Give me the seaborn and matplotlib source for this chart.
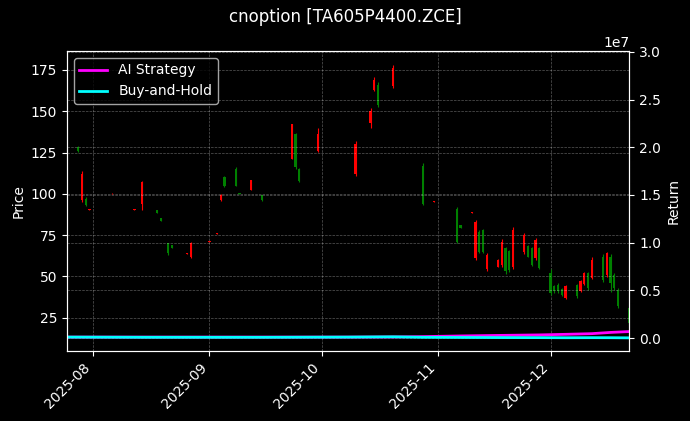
import pandas as pd
import numpy as np
import seaborn as sns
import matplotlib.pyplot as plt
import matplotlib.dates as mdates

# candle data
c_dates = ['2025-07-28', '2025-07-29', '2025-07-30', '2025-07-31', '2025-08-06', '2025-08-11',
           '2025-08-12', '2025-08-14', '2025-08-18', '2025-08-19', '2025-08-21', '2025-08-22',
           '2025-08-26', '2025-08-27', '2025-09-01', '2025-09-03', '2025-09-04', '2025-09-05',
           '2025-09-08', '2025-09-09', '2025-09-12', '2025-09-15', '2025-09-16', '2025-09-23',
           '2025-09-24', '2025-09-25', '2025-09-29', '2025-09-30', '2025-10-10', '2025-10-14',
           '2025-10-15', '2025-10-16', '2025-10-20', '2025-10-22', '2025-10-28', '2025-10-29',
           '2025-10-31', '2025-11-03', '2025-11-05', '2025-11-06', '2025-11-07', '2025-11-10',
           '2025-11-11', '2025-11-12', '2025-11-13', '2025-11-14', '2025-11-17', '2025-11-18',
           '2025-11-19', '2025-11-20', '2025-11-21', '2025-11-24', '2025-11-25', '2025-11-26',
           '2025-11-27', '2025-11-28', '2025-12-01', '2025-12-02', '2025-12-03', '2025-12-04',
           '2025-12-05', '2025-12-08', '2025-12-09', '2025-12-10', '2025-12-11', '2025-12-12',
           '2025-12-15', '2025-12-16', '2025-12-17', '2025-12-18', '2025-12-19', '2025-12-22']
c_open = [128.5, 96, 97, 90.5, 99.8, 96, 90.4, 94, 90.5, 85.5, 70, 69,
          63.6, 62, 70.8, 75.7, 96, 110, 115, 100.7, 102.2, 99, 95.5, 121,
          136, 115, 113.6, 126, 112, 143, 163, 166, 165, 153.7, 117, 97.8,
          95.1, 92.5, 84.5, 91, 81, 88.5, 61, 77, 78, 54.5, 56, 57,
          67, 65.5, 56, 65, 68.5, 67.5, 61, 67, 52, 44.5, 45, 42.5,
          37, 45, 41, 45.5, 52, 49, 62, 51, 62, 51, 42, 31]
c_high = [129, 114, 98, 91, 100.3, 96.3, 90.8, 108, 90.5, 85.6, 70.5, 69,
          64, 70.8, 71.2, 76, 99.7, 110.8, 116.4, 100.7, 108.6, 99.3, 95.8, 142.5,
          137, 115.5, 113.9, 140, 132, 152, 170.5, 168, 178, 154, 118.5, 98.1,
          95.4, 92.8, 84.8, 92.2, 81.1, 88.8, 84, 78.1, 78.5, 64, 60.4, 72.5,
          68, 66, 80, 76.5, 69, 68, 73, 68, 54.3, 44.8, 45.8, 42.8,
          44.8, 45.4, 47.8, 52.8, 52.8, 61.6, 63.6, 65, 63.6, 52.1, 42.8, 31.7]
c_low = [125.5, 95, 92.5, 90.5, 99.8, 96, 90.4, 90, 88.5, 83.6, 63, 67.4,
         63.6, 61, 70.8, 75.7, 95.7, 104.1, 104.8, 99.7, 102.1, 95.7, 95.5, 120.9,
         114.9, 107.4, 113.6, 125.5, 111, 140, 162, 152.8, 164.3, 153.7, 93.2, 97.8,
         95.1, 92.5, 84.5, 70.4, 79.1, 88.5, 60, 64.4, 64, 53.5, 55.9, 55.5,
         51.5, 52.8, 54.3, 63.6, 61.6, 56.3, 60, 54.3, 38.7, 40.1, 39.8, 38,
         36.1, 36.7, 40.7, 44.8, 41.8, 48.3, 46.8, 49.8, 40.7, 41.6, 30.7, 20.6]
c_close = [126, 112, 93, 91, 100.2, 96.3, 90.8, 107, 88.6, 83.8, 64, 67.5,
           64, 70, 71.2, 76, 99.5, 104.5, 105, 99.8, 108.5, 96, 95.8, 142,
           116, 108, 113.9, 136, 130, 150, 169, 154, 176, 154, 94, 98.1,
           95.4, 92.8, 84.8, 71, 79.3, 88.8, 83, 65, 65, 63, 60, 71,
           53, 54, 78, 75, 62, 57, 72, 55, 40, 41, 41, 39,
           44, 38, 47, 52, 43, 60, 48, 64, 46, 43, 32, 22]

# equity curves
line_dates = ['2025-07-25', '2025-08-15', '2025-09-15', '2025-10-08', '2025-10-20', '2025-10-28',
              '2025-11-07', '2025-11-18', '2025-11-28', '2025-12-05', '2025-12-12', '2025-12-17',
              '2025-12-22']
ai_strategy = [1.0e5, 1.0e5, 1.0e5, 1.0e5, 1.1e5, 1.5e5,
               2.2e5, 2.8e5, 3.3e5, 3.9e5, 4.6e5, 5.9e5, 6.8e5]
buy_and_hold = [1.0e5, 0.8e5, 0.77e5, 1.0e5, 1.3e5, 0.75e5,
                0.62e5, 0.5e5, 0.45e5, 0.33e5, 0.4e5, 0.35e5, 0.2e5]

plt.style.use('dark_background')
fig, ax = plt.subplots(figsize=(6.9, 4.21), dpi=100)
fig.subplots_adjust(left=0.097, right=0.912, top=0.879, bottom=0.166)

cd = pd.DataFrame({'date': pd.to_datetime(c_dates), 'open': c_open, 'high': c_high,
                   'low': c_low, 'close': c_close})
cols = np.where(cd['close'] >= cd['open'], 'red', 'green')
ax.vlines(cd['date'], cd['low'], cd['high'], color=cols, linewidth=0.8)
body = (cd['close'] - cd['open']).abs().clip(lower=0.3)
ax.bar(cd['date'], body, bottom=cd[['open', 'close']].min(axis=1), width=0.6, color=cols)
ax.set_ylim(4.8, 186.5)
ax.set_ylabel('Price')
ax.grid(True, linestyle='--', linewidth=0.5, alpha=0.35)

ax2 = ax.twinx()
ld = pd.DataFrame({'date': pd.to_datetime(line_dates), 'ai': ai_strategy, 'bh': buy_and_hold})
sns.lineplot(data=ld, x='date', y='ai', ax=ax2, color='magenta', linewidth=2, label='AI Strategy')
sns.lineplot(data=ld, x='date', y='bh', ax=ax2, color='cyan', linewidth=2, label='Buy-and-Hold')
ax2.set_ylim(-1.37e6, 3.01e7)
ax2.set_ylabel('Return')
ax2.grid(True, linestyle='--', linewidth=0.5, alpha=0.35)
ax2.legend(loc='upper left')

ax.set_xlim(pd.Timestamp('2025-07-25'), pd.Timestamp('2025-12-22'))
ax.xaxis.set_major_locator(mdates.MonthLocator())
ax.xaxis.set_major_formatter(mdates.DateFormatter('%Y-%m'))
ax2.set_xlabel('')
plt.setp(ax.get_xticklabels(), rotation=45, ha='right')

fig.suptitle('cnoption [TA605P4400.ZCE]')
plt.savefig('out.png')
